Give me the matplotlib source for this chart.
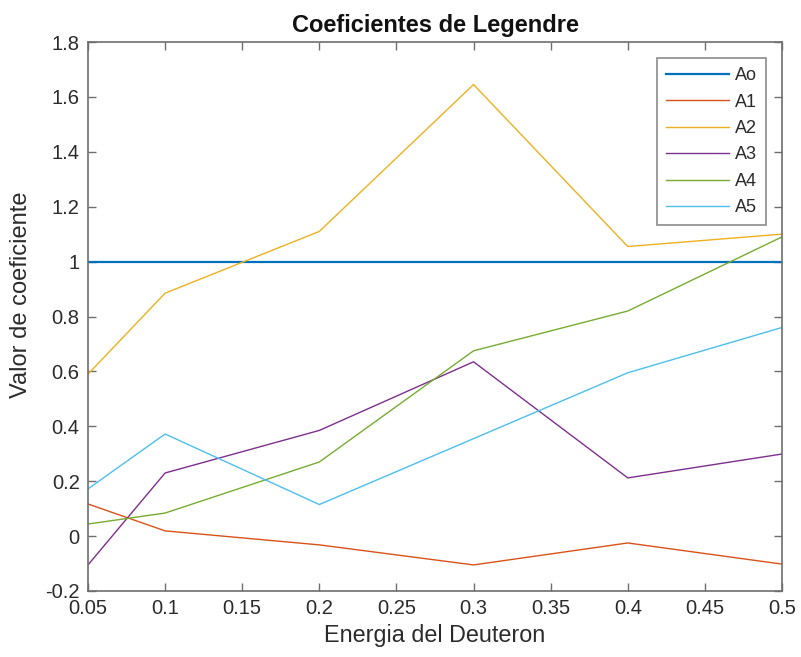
import matplotlib
matplotlib.use("Agg")
import matplotlib.pyplot as plt

# Deuteron energy and Legendre coefficient values
energia = [0.05, 0.1, 0.2, 0.3, 0.4, 0.5]
a0 = [1.0, 1.0, 1.0, 1.0, 1.0, 1.0]
a1 = [0.117, 0.019, -0.032, -0.105, -0.025, -0.102]
a2 = [0.59, 0.885, 1.11, 1.645, 1.055, 1.10]
a3 = [-0.105, 0.23, 0.385, 0.635, 0.212, 0.299]
a4 = [0.044, 0.084, 0.27, 0.675, 0.82, 1.09]
a5 = [0.172, 0.372, 0.115, 0.355, 0.595, 0.76]
etiquetas = ["Ao", "A1", "A2", "A3", "A4", "A5"]

x_ticks = [0.05, 0.1, 0.15, 0.2, 0.25, 0.3, 0.35, 0.4, 0.45, 0.5]
x_ticklabels = ["0.05", "0.1", "0.15", "0.2", "0.25", "0.3", "0.35", "0.4", "0.45", "0.5"]
y_ticks = [-0.2, 0, 0.2, 0.4, 0.6, 0.8, 1.0, 1.2, 1.4, 1.6, 1.8]
y_ticklabels = ["-0.2", "0", "0.2", "0.4", "0.6", "0.8", "1", "1.2", "1.4", "1.6", "1.8"]

colores = ["#0072BD", "#D95319", "#EDB120", "#7E2F8E", "#77AC30", "#4DBEEE"]
series = [a0, a1, a2, a3, a4, a5]

plt.rcParams["font.family"] = ["Liberation Sans", "DejaVu Sans"]

fig = plt.figure(figsize=(8.01, 6.57), dpi=100)
ax = fig.add_axes([88 / 801, 66 / 657, 694 / 801, 549 / 657])

for i, (serie, etiqueta, color) in enumerate(zip(series, etiquetas, colores)):
    ax.plot(energia, serie, color=color, lw=1.6 if i == 0 else 1.0, label=etiqueta)

ax.set_xlim(0.05, 0.5)
ax.set_ylim(-0.2, 1.8)
ax.set_xticks(x_ticks)
ax.set_xticklabels(x_ticklabels)
ax.set_yticks(y_ticks)
ax.set_yticklabels(y_ticklabels)

axis_grey = "#6e6e6e"
text_grey = "#2b2b2b"
for s in ax.spines.values():
    s.set_color(axis_grey)
    s.set_linewidth(1.2)
ax.tick_params(direction="in", top=True, right=True, length=6, width=1.0,
               color=axis_grey, labelsize=14.5, labelcolor=text_grey, pad=6)

ax.set_title("Coeficientes de Legendre", fontsize=17, fontweight="bold",
             color="#111111", pad=7)
ax.set_xlabel("Energia del Deuteron", fontsize=16.8, color=text_grey, labelpad=4)
ax.set_ylabel("Valor de coeficiente", fontsize=17, color=text_grey, labelpad=8)
ax.yaxis.set_label_coords(-0.08, 0.54)

leg = ax.legend(loc="upper right", fontsize=13, frameon=True, fancybox=False,
                edgecolor=axis_grey, handlelength=3.5, handletextpad=0.3,
                labelspacing=0.52, borderaxespad=0.9, borderpad=0.5)
leg.get_frame().set_linewidth(1.2)
for t in leg.get_texts():
    t.set_color(text_grey)

fig.savefig("out.png", dpi=100, facecolor="white")
